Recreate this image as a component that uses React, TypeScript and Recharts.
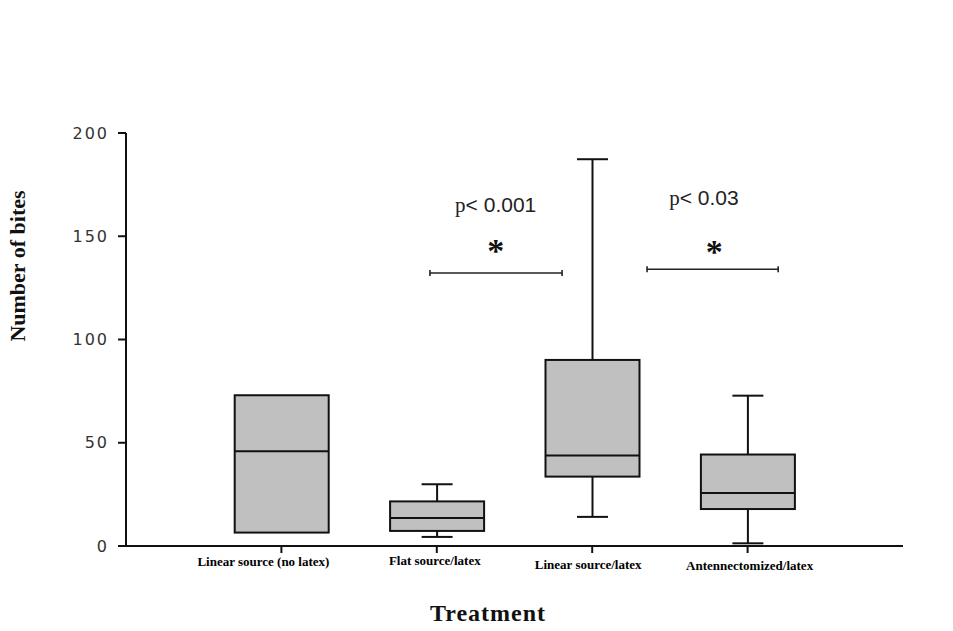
import { Bar, ComposedChart, ReferenceDot, ReferenceLine, XAxis, YAxis } from "recharts";

// one box per treatment
const categories = [
  "Linear source (no latex)",
  "Flat source/latex",
  "Linear source/latex",
  "Antennectomized/latex",
];
const positions = [1, 2, 3, 4];
const minValues = [6.5, 4.4, 14.1, 1.3];
const q1Values = [6.5, 7.3, 33.6, 17.9];
const medianValues = [45.9, 13.6, 43.8, 25.7];
const q3Values = [73, 21.6, 90.1, 44.3];
const maxValues = [73, 29.9, 187.3, 72.8];
const yTicks = [0, 50, 100, 150, 200];

// significance brackets: [x start, x end, y]
const brackets = [
  [1.956, 2.806, 132.2],
  [3.353, 4.197, 134],
];
const pLabels = ["p< 0.001", "p< 0.03"];
const pLabelX = [2.379, 3.719];
const pLabelY = [161.7, 165.2];
const starX = [2.379, 3.786];
const starY = [137.4, 136.9];

const data = categories.map((name, i) => ({
  name,
  x: positions[i],
  range: [minValues[i], maxValues[i]],
  min: minValues[i],
  q1: q1Values[i],
  median: medianValues[i],
  q3: q3Values[i],
  max: maxValues[i],
}));

const SERIF = "'Liberation Serif', 'Times New Roman', serif";
const SANS = "'DejaVu Sans', sans-serif";

function BoxShape(props: any) {
  const { x, y, width, height, payload } = props;
  const { min, q1, median, q3, max } = payload;
  const toY = (v: number) => (max === min ? y : y + (height * (max - v)) / (max - min));
  const cx = x + width / 2;
  const cap = 15.5;
  const yMax = toY(max);
  const yMin = toY(min);
  const yQ1 = toY(q1);
  const yQ3 = toY(q3);
  const yMed = toY(median);
  return (
    <g stroke="#111" strokeWidth={2} fill="none">
      {max > q3 && (
        <>
          <line x1={cx} x2={cx} y1={yMax} y2={yQ3} />
          <line x1={cx - cap} x2={cx + cap} y1={yMax} y2={yMax} />
        </>
      )}
      {min < q1 && (
        <>
          <line x1={cx} x2={cx} y1={yQ1} y2={yMin} />
          <line x1={cx - cap} x2={cx + cap} y1={yMin} y2={yMin} />
        </>
      )}
      <rect x={x} y={yQ3} width={width} height={yQ1 - yQ3} fill="#c0c0c0" />
      <line x1={x} x2={x + width} y1={yMed} y2={yMed} />
    </g>
  );
}

const tickShift = [-18, -2, -4, 2];
const tickDrop = [13, 12, 16, 17];

function CategoryTick(props: any) {
  const { x, y, payload, index } = props;
  const i = positions.indexOf(payload.value);
  const k = i >= 0 ? i : index;
  return (
    <text
      x={x + tickShift[k]}
      y={y + tickDrop[k]}
      textAnchor="middle"
      fontFamily={SERIF}
      fontWeight="bold"
      fontSize={13}
      fill="#000"
    >
      {categories[k]}
    </text>
  );
}

function Bracket(props: any) {
  const { x1, x2, y1 } = props;
  return (
    <g stroke="#222" strokeWidth={1.6}>
      <line x1={x1} x2={x2} y1={y1} y2={y1} />
      <line x1={x1} x2={x1} y1={y1 - 3} y2={y1 + 3} />
      <line x1={x2} x2={x2} y1={y1 - 3} y2={y1 + 3} />
    </g>
  );
}

export default function App() {
  return (
    <div style={{ position: "absolute", left: 0, top: 0, background: "#fff" }}>
      <ComposedChart
        width={953}
        height={631}
        data={data}
        margin={{ top: 133, right: 50, bottom: 45, left: 0 }}
      >
        <XAxis
          dataKey="x"
          type="number"
          domain={[0, 5]}
          ticks={positions}
          interval={0}
          height={40}
          stroke="#111"
          strokeWidth={2}
          tickSize={7}
          tickMargin={0}
          tick={<CategoryTick />}
          label={{
            content: () => (
              <text
                x={488}
                y={621}
                textAnchor="middle"
                fontFamily={SERIF}
                fontWeight="bold"
                fontSize={24}
                letterSpacing={1}
                fill="#111"
              >
                Treatment
              </text>
            ),
          }}
        />
        <YAxis
          type="number"
          domain={[0, 200]}
          ticks={yTicks}
          width={126}
          stroke="#111"
          strokeWidth={2}
          tickSize={8}
          tickMargin={9}
          tick={{ fontFamily: SANS, fontSize: 16, fill: "#333", letterSpacing: 2 }}
          label={{
            content: () => (
              <text
                transform="translate(25, 266) rotate(-90)"
                textAnchor="middle"
                fontFamily={SERIF}
                fontWeight="bold"
                fontSize={22}
                fill="#111"
              >
                Number of bites
              </text>
            ),
          }}
        />
        <Bar dataKey="range" barSize={94} shape={<BoxShape />} isAnimationActive={false} />
        {brackets.map((b, i) => (
          <ReferenceLine
            key={`br${i}`}
            segment={[
              { x: b[0], y: b[2] },
              { x: b[1], y: b[2] },
            ]}
            shape={<Bracket />}
          />
        ))}
        {pLabels.map((t, i) => (
          <ReferenceDot
            key={`p${i}`}
            x={pLabelX[i]}
            y={pLabelY[i]}
            r={0}
            shape={(p: any) => (
              <text x={p.cx} y={p.cy} textAnchor="middle" fontSize={21} fill="#222">
                <tspan fontFamily={SERIF}>{t.slice(0, 1)}</tspan>
                <tspan fontFamily="'Liberation Sans', Arial, sans-serif">{t.slice(1)}</tspan>
              </text>
            )}
          />
        ))}
        {starX.map((sx, i) => (
          <ReferenceDot
            key={`s${i}`}
            x={sx}
            y={starY[i]}
            r={0}
            shape={(p: any) => (
              <text
                x={p.cx}
                y={p.cy}
                textAnchor="middle"
                fontFamily={SERIF}
                fontWeight="bold"
                fontSize={34}
                fill="#111"
              >
                *
              </text>
            )}
          />
        ))}
      </ComposedChart>
    </div>
  );
}
